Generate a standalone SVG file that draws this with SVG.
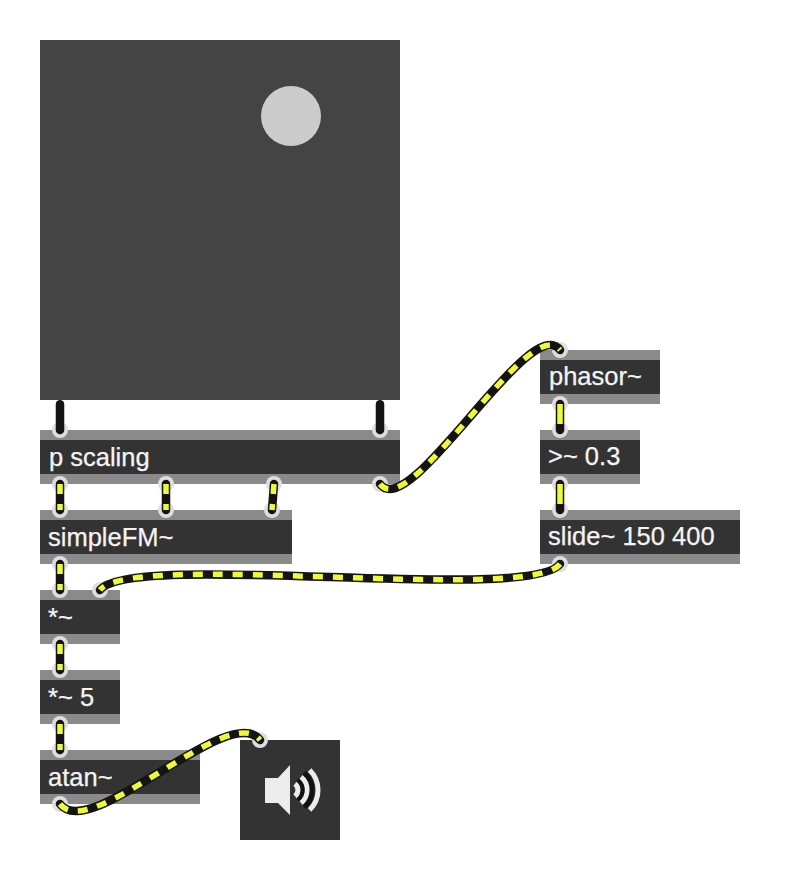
<svg xmlns="http://www.w3.org/2000/svg" width="790" height="878" viewBox="0 0 790 878">
<style>
.bar{fill:#8a8a8a}
.body{fill:#333333}
.lbl{font-family:"Liberation Sans",Arial,sans-serif;font-size:25.5px;fill:#f4f4f4;stroke:#f4f4f4;stroke-width:.25}
.port{fill:#dedede}
.ic{fill:#ececec}
.w{fill:none;stroke:#ececec;stroke-width:5}
.k{fill:none;stroke:#111111;stroke-width:5}
.cb{fill:none;stroke:#141414;stroke-width:8.5;stroke-linecap:round}
.cy{fill:none;stroke:#eefb33;stroke-width:5.5;stroke-dasharray:10 10}
.cy2{fill:none;stroke:#eefb33;stroke-width:5.5;stroke-dasharray:20 100}
</style>
<defs>
<path id="c1" d="M60 484V510"/>
<path id="c2" d="M166 484V510"/>
<path id="c3" d="M274 484L272 510"/>
<path id="c4" d="M60 564V590"/>
<path id="c5" d="M60 644V670"/>
<path id="c6" d="M60 724V750"/>
<path id="c7" d="M560 404V430"/>
<path id="c8" d="M560 484V510"/>
<path id="c9" d="M380 484C410 524 530 310 560 350"/>
<path id="c10" d="M60 804C90 844 230 700 260 740"/>
<path id="c11" d="M560 564C530 604 130 550 100 590"/>
</defs>
<g id="screen"><rect x="40" y="40" width="360" height="360" fill="#444444"/><circle cx="291" cy="116" r="30" fill="#cccccc"/></g>
<g id="p-scaling"><rect class="bar" x="40" y="430" width="360" height="54"/><rect class="body" x="40" y="440" width="360" height="34"/><text class="lbl" x="49" y="466">p scaling</text></g>
<g id="simpleFM"><rect class="bar" x="40" y="510" width="252" height="54"/><rect class="body" x="40" y="520" width="252" height="34"/><text class="lbl" x="48" y="546">simpleFM~</text></g>
<g id="mul"><rect class="bar" x="40" y="590" width="80" height="54"/><rect class="body" x="40" y="600" width="80" height="34"/><text class="lbl" x="48" y="626">*~</text></g>
<g id="mul5"><rect class="bar" x="40" y="670" width="80" height="54"/><rect class="body" x="40" y="680" width="80" height="34"/><text class="lbl" x="48" y="706">*~ 5</text></g>
<g id="atan"><rect class="bar" x="40" y="750" width="160" height="54"/><rect class="body" x="40" y="760" width="160" height="34"/><text class="lbl" x="48" y="786">atan~</text></g>
<g id="phasor"><rect class="bar" x="540" y="350" width="120" height="54"/><rect class="body" x="540" y="360" width="120" height="34"/><text class="lbl" x="549" y="385">phasor~</text></g>
<g id="gt"><rect class="bar" x="540" y="430" width="100" height="54"/><rect class="body" x="540" y="440" width="100" height="34"/><text class="lbl" x="548" y="465">&gt;~ 0.3</text></g>
<g id="slide"><rect class="bar" x="540" y="510" width="200" height="54"/><rect class="body" x="540" y="520" width="200" height="34"/><text class="lbl" x="548" y="545">slide~ 150 400</text></g>
<g id="ezdac"><rect class="body" x="240" y="740" width="100" height="100"/>
<path class="ic" d="M265 778H278L290 765V815L278 803H265Z"/>
<path class="w" d="M309.6 770A28 28 0 0 1 309.6 810"/>
<path class="k" d="M304 773A22 22 0 0 1 304 807"/>
<path class="w" d="M301 777A17 17 0 0 1 301 803"/>
<path class="k" d="M297.5 780.5A12 12 0 0 1 297.5 799.5"/>
<path class="w" d="M295 783.8A8 8 0 0 1 295 796.2"/>
</g>
<g id="ports">
<circle class="port" cx="60" cy="430" r="8"/><circle class="port" cx="380" cy="430" r="8"/>
<circle class="port" cx="60" cy="484" r="8"/><circle class="port" cx="166" cy="484" r="8"/><circle class="port" cx="274" cy="484" r="8"/><circle class="port" cx="380" cy="484" r="8"/>
<circle class="port" cx="60" cy="510" r="8"/><circle class="port" cx="166" cy="510" r="8"/><circle class="port" cx="272" cy="510" r="8"/>
<circle class="port" cx="60" cy="564" r="8"/><circle class="port" cx="60" cy="590" r="8"/><circle class="port" cx="100" cy="590" r="8"/>
<circle class="port" cx="60" cy="644" r="8"/><circle class="port" cx="60" cy="670" r="8"/><circle class="port" cx="60" cy="724" r="8"/><circle class="port" cx="60" cy="750" r="8"/><circle class="port" cx="60" cy="804" r="8"/><circle class="port" cx="260" cy="740" r="8"/>
<circle class="port" cx="560" cy="350" r="8"/><circle class="port" cx="560" cy="404" r="8"/><circle class="port" cx="560" cy="430" r="8"/><circle class="port" cx="560" cy="484" r="8"/><circle class="port" cx="560" cy="510" r="8"/><circle class="port" cx="560" cy="564" r="8"/>
</g>
<g id="connectors">
<path class="cb" d="M60 404.3V430"/><path class="cb" d="M380 404.3V430"/>
<use href="#c1" class="cb"/><use href="#c1" class="cy"/>
<use href="#c2" class="cb"/><use href="#c2" class="cy"/>
<use href="#c3" class="cb"/><use href="#c3" class="cy"/>
<use href="#c4" class="cb"/><use href="#c4" class="cy"/>
<use href="#c5" class="cb"/><use href="#c5" class="cy"/>
<use href="#c6" class="cb"/><use href="#c6" class="cy"/>
<use href="#c7" class="cb"/><use href="#c7" class="cy2"/>
<use href="#c8" class="cb"/><use href="#c8" class="cy2"/>
<use href="#c9" class="cb"/><use href="#c9" class="cy"/>
<use href="#c10" class="cb"/><use href="#c10" class="cy"/>
<use href="#c11" class="cb"/><use href="#c11" class="cy"/>
</g>
</svg>
